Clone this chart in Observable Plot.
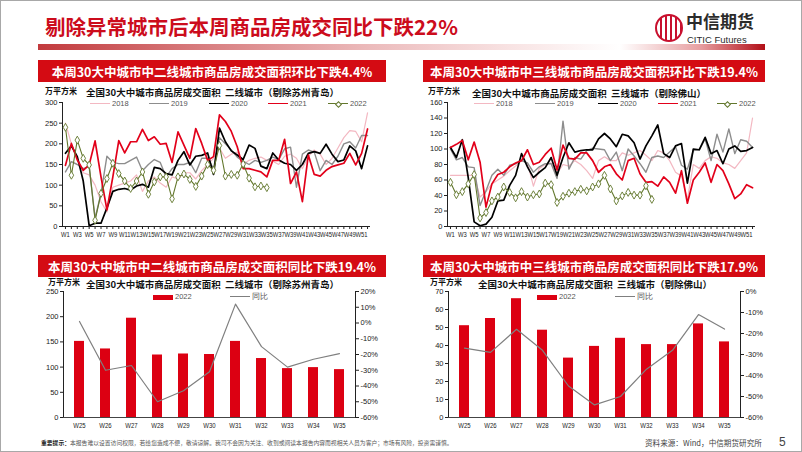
<!DOCTYPE html>
<html><head><meta charset="utf-8">
<script src="https://cdn.jsdelivr.net/npm/d3@7"></script>
<script src="https://cdn.jsdelivr.net/npm/@observablehq/plot@0.6"></script>
<style>
body{margin:0;background:#fff;}
#slide{position:relative;width:802px;height:452px;overflow:hidden;background:#fff;font-family:"Noto Sans CJK SC","Liberation Sans",sans-serif;}
.abs{position:absolute;white-space:nowrap;line-height:1;}
.hdr{position:absolute;height:22px;background:#d40b13;color:#fff;font-weight:700;font-size:12.5px;display:flex;align-items:center;justify-content:center;white-space:nowrap;}
.ctitle{position:absolute;white-space:nowrap;line-height:1;font-size:9.5px;font-weight:700;color:#111;}
.unit{position:absolute;white-space:nowrap;line-height:1;font-size:8px;font-weight:700;color:#111;}
.lg{position:absolute;white-space:nowrap;line-height:1;font-size:7.5px;color:#555;font-family:"Liberation Sans",Arial,sans-serif;}
.lgline{position:absolute;height:0;}
.chart{position:absolute;}
</style></head>
<body>
<div id="slide">
  <div class="abs" style="left:45px;top:16px;font-size:20.5px;font-weight:700;color:#cc0c1c;">剔除异常城市后本周商品房成交同比下跌22%</div>
  <div class="abs" style="left:38px;top:44px;width:727px;height:6px;background:linear-gradient(90deg,#c23a3d 0%,#d77b7d 22%,#ebb9ba 45%,#f8e3e3 65%,#ffffff 80%,#e7a0a2 91%,#b20f18 100%);"></div>
  <div class="abs" style="left:655px;top:14px;width:24px;height:24px;border:2.5px solid #c8102e;border-radius:50%;background:repeating-linear-gradient(90deg,#fff 0px,#fff 3px,#c8102e 3px,#c8102e 5px);"></div>
  <div class="abs" style="left:686px;top:12px;font-size:17px;font-weight:700;color:#2b2b2b;">中信期货</div>
  <div class="abs" style="left:687px;top:35px;font-size:9.5px;color:#2b2b2b;font-family:'Liberation Sans',Arial,sans-serif;">CITIC Futures</div>

  <div class="hdr" style="left:38px;top:60px;width:348px;">本周30大中城市中二线城市商品房成交面积环比下跌4.4%</div>
  <div class="hdr" style="left:423px;top:60px;width:342px;">本周30大中城市中三线城市商品房成交面积环比下跌19.4%</div>
  <div class="hdr" style="left:38px;top:255px;width:348px;">本周30大中城市中二线城市商品房成交面积同比下跌19.4%</div>
  <div class="hdr" style="left:423px;top:255px;width:342px;">本周30大中城市中三线城市商品房成交面积同比下跌17.9%</div>

  <div id="c1" class="chart" style="left:20px;top:95px;"></div>
  <div id="c2" class="chart" style="left:405px;top:95px;"></div>
  <div id="c3a" class="chart" style="left:20px;top:284px;"></div>
  <div id="c3b" class="chart" style="left:20px;top:284px;"></div>
  <div id="c4a" class="chart" style="left:405px;top:284px;"></div>
  <div id="c4b" class="chart" style="left:405px;top:284px;"></div>

  <div class="unit" style="left:45px;top:87px;">万平方米</div>
  <div class="ctitle" style="left:86px;top:88px;">全国30大中城市商品房成交面积&nbsp;&nbsp;二线城市（剔除苏州青岛）</div>
  <div class="unit" style="left:428px;top:87px;">万平方米</div>
  <div class="ctitle" style="left:472px;top:89px;">全国30大中城市商品房成交面积&nbsp;&nbsp;三线城市（剔除佛山）</div>
  <div class="unit" style="left:48px;top:278px;">万平方米</div>
  <div class="ctitle" style="left:86px;top:280px;">全国30大中城市商品房成交面积&nbsp;&nbsp;二线城市（剔除苏州青岛）</div>
  <div class="unit" style="left:430px;top:278px;">万平方米</div>
  <div class="ctitle" style="left:478px;top:280px;">全国30大中城市商品房成交面积&nbsp;&nbsp;三线城市（剔除佛山）</div>

  <div id="legends"></div>

  <div class="abs" style="left:41px;top:440px;font-size:5.8px;color:#555;"><b style="color:#222;">重要提示：</b>本报告难以设置访问权限，若给您造成不便，敬请谅解。我司不会因为关注、收到或阅读本报告内容而视相关人员为客户；市场有风险，投资需谨慎。</div>
  <div class="abs" style="left:645px;top:439px;font-size:7.6px;color:#444;">资料来源：Wind，中信期货研究所</div>
  <div class="abs" style="left:779px;top:436px;font-size:12px;color:#444;font-family:'Liberation Sans',Arial,sans-serif;">5</div>
  <div class="abs" style="left:0;top:0;width:800px;height:450px;border:1px solid #a8a8a8;"></div>
</div>
<script>
// ---------- data ----------
const weeks = ["W1","W2","W3","W4","W5","W6","W7","W8","W9","W10","W11","W12","W13","W14","W15","W16","W17","W18","W19","W20","W21","W22","W23","W24","W25","W26","W27","W28","W29","W30","W31","W32","W33","W34","W35","W36","W37","W38","W39","W40","W41","W42","W43","W44","W45","W46","W47","W48","W49","W50","W51","W52"];
const years = ["2018","2019","2020","2021","2022"];

// 二线城市 (万平方米)
const tier2_2018 = [250,200,165,130,125,100,60,35,95,100,105,110,125,85,110,120,105,95,120,115,130,130,115,135,150,165,190,165,175,180,150,160,165,168,160,158,150,170,175,165,140,170,185,175,150,165,190,215,232,230,205,275];
const tier2_2019 = [132,157,150,140,145,20,80,170,155,152,152,160,168,135,150,162,155,120,140,150,150,155,130,165,165,140,215,200,185,168,158,150,160,155,160,168,162,188,192,95,175,185,180,135,160,150,170,200,205,190,220,220];
const tier2_2020 = [177,195,169,110,2,8,8,45,85,90,92,88,98,102,95,143,140,128,125,160,181,149,170,172,178,126,238,205,183,173,162,197,189,146,140,178,161,153,150,136,150,177,181,177,199,175,157,161,195,183,140,195];
const tier2_2021 = [148,201,161,136,149,207,120,40,120,208,178,205,205,235,208,217,199,201,155,229,197,165,237,201,160,169,270,254,230,193,140,140,136,132,120,160,160,211,104,132,60,173,126,122,136,145,149,153,177,149,177,236];
const tier2_2022 = [240,124,209,165,149,15,80,116,153,128,110,92,110,132,78,108,120,120,67,120,127,114,97,122,150,136,196,122,126,124,151,117,96,98,94];

// 三线城市 (万平方米)
const tier3_2018 = [66,66,66,66,66,38,45,55,60,65,72,78,85,82,52,75,80,82,68,80,78,85,80,72,62,85,90,85,85,95,92,95,98,92,85,98,95,85,70,65,35,80,75,85,90,88,82,80,75,85,95,140];
const tier3_2019 = [100,86,89,77,76,27,46,66,74,66,79,81,85,82,70,77,81,81,62,136,74,89,87,98,101,100,99,85,96,72,100,91,81,70,89,91,89,96,103,79,74,98,99,113,85,119,96,126,94,112,110,102];
const tier3_2020 = [102,89,112,63,6,1,3,12,33,34,53,66,94,77,63,70,76,89,66,89,108,96,98,99,99,113,120,113,103,119,117,108,87,104,117,131,94,89,104,107,56,100,99,115,94,98,81,100,104,97,98,102];
const tier3_2021 = [102,106,111,86,109,83,25,55,67,70,77,82,85,99,80,83,93,101,73,105,88,87,95,95,85,70,77,80,68,60,85,88,68,57,58,52,64,57,43,72,30,60,70,82,57,80,72,55,36,42,54,50];
const tier3_2022 = [57,41,45,55,67,11,18,33,38,51,44,37,45,38,41,42,56,54,31,39,43,45,48,46,51,55,66,48.5,33,39.5,44,40.5,40.5,52.5,35];

// 同比 charts
const barWeeks = ["W25","W26","W27","W28","W29","W30","W31","W32","W33","W34","W35"];
const tier2_bars2022 = [151,136,197,124,126,125,151,117,97,99,95];
const tier2_yoy = [1,-30,-27,-50,-43,-31,12,-15,-28,-23,-19.4];
const tier3_bars2022 = [51,55,66,48.5,33,39.5,44,40.5,40.5,52,42];
const tier3_yoy = [-27,-29,-18,-28,-45,-54,-50,-37,-28,-11,-17.9];

// tick labels
const tier2Ticks = [0,50,100,150,200,250,300];
const tier3Ticks = [0,20,40,60,80,100,120,140,160];
const barTicks2 = [0,50,100,150,200,250];
const yoyTicks2 = [-60,-50,-40,-30,-20,-10,0,10,20];
const barTicks3 = [0,10,20,30,40,50,60,70];
const yoyTicks3 = [-60,-50,-40,-30,-20,-10,0];

// ---------- styles ----------
const yearColors = {"2018":"#f3b8c2","2019":"#8d8d8d","2020":"#000000","2021":"#e2001a","2022":"#62772c"};
const yearWidths = {"2018":1.2,"2019":1.4,"2020":1.7,"2021":1.7,"2022":1.1};
const axisStyle = {fontFamily:"'Liberation Sans', Arial, sans-serif", fontSize:"7.5px", color:"#222", background:"transparent", overflow:"visible"};

function squeezeX(svg, k) {
  d3.select(svg).selectAll('g[aria-label="x-axis tick label"] text').each(function(){
    const tr = this.getAttribute("transform") || "";
    const xa = +(this.getAttribute("x") || 0);
    this.removeAttribute("x");
    this.setAttribute("transform", `${tr} translate(${xa},0) scale(${k},1)`);
  });
}

function weeklyChart(id, seriesList, yMax, yTicks) {
  const rows = seriesList.flatMap((vals, k) => vals.map((v, i) => ({week: weeks[i], value: v, year: years[k]})));
  const marks = years.map(yr => Plot.line(rows.filter(d => d.year === yr), {x: "week", y: "value", stroke: yearColors[yr], strokeWidth: yearWidths[yr]}));
  marks.push(Plot.dot(rows.filter(d => d.year === "2022"), {x: "week", y: "value", symbol: "diamond", r: 2.4, fill: "#fff", stroke: yearColors["2022"], strokeWidth: 0.9}));
  marks.push(Plot.ruleY([0], {stroke: "#222"}));
  const svg = Plot.plot({
    width: 360, height: 150, marginLeft: 42, marginRight: 10, marginTop: 7, marginBottom: 19,
    style: axisStyle,
    x: {type: "band", domain: weeks, padding: 0, tickSize: 3, tickPadding: 2, tickFormat: d => (+d.slice(1)) % 2 === 1 ? d : "", label: null},
    y: {domain: [0, yMax], ticks: yTicks, tickSize: 3, tickPadding: 2, line: true, label: null},
    marks
  });
  squeezeX(svg, 0.78);
  document.getElementById(id).append(svg);
}

function barChart(idA, idB, bars, yoy, leftMax, leftTicks, rightDomain, rightTicks) {
  const barRows = barWeeks.map((w, i) => ({week: w, value: bars[i]}));
  const yoyRows = barWeeks.map((w, i) => ({week: w, value: yoy[i]}));
  const common = {width: 380, height: 150, marginLeft: 43, marginRight: 45, marginTop: 7, marginBottom: 17, style: axisStyle};
  const x = {type: "band", domain: barWeeks, paddingInner: 0.6, paddingOuter: 0.3, tickSize: 0, tickPadding: 5, label: null};
  const left = Plot.plot({
    ...common, x,
    y: {domain: [0, leftMax], ticks: leftTicks, tickSize: 3, tickPadding: 2, line: true, label: null},
    marks: [
      Plot.barY(barRows, {x: "week", y: "value", fill: "#dc0012"}),
      Plot.ruleY([0], {stroke: "#444"})
    ]
  });
  squeezeX(left, 0.8);
  const right = Plot.plot({
    ...common, x: {...x, axis: null},
    y: {domain: rightDomain, ticks: rightTicks, axis: "right", tickSize: 3, tickPadding: 2, line: true, tickFormat: d => d + "%", label: null},
    marks: [Plot.line(yoyRows, {x: "week", y: "value", stroke: "#7f7f7f", strokeWidth: 1.2})]
  });
  document.getElementById(idA).append(left);
  document.getElementById(idB).append(right);
}

weeklyChart("c1", [tier2_2018, tier2_2019, tier2_2020, tier2_2021, tier2_2022], 300, tier2Ticks);
weeklyChart("c2", [tier3_2018, tier3_2019, tier3_2020, tier3_2021, tier3_2022], 160, tier3Ticks);
barChart("c3a", "c3b", tier2_bars2022, tier2_yoy, 250, barTicks2, [-60, 20], yoyTicks2);
barChart("c4a", "c4b", tier3_bars2022, tier3_yoy, 70, barTicks3, [-60, 0], yoyTicks3);

// ---------- legends (HTML) ----------
const lg = document.getElementById("legends");
function addLine(x, y, w, color, width) {
  const d = document.createElement("div");
  d.className = "lgline";
  d.style.cssText = `left:${x}px;top:${y - width / 2}px;width:${w}px;border-top:${width}px solid ${color};`;
  lg.append(d);
}
function addText(x, y, t) {
  const d = document.createElement("div");
  d.className = "lg"; d.style.left = x + "px"; d.style.top = (y - 4) + "px"; d.textContent = t;
  lg.append(d);
}
function addDiamond(x, y, color) {
  const d = document.createElement("div");
  d.style.cssText = `position:absolute;left:${x - 2}px;top:${y - 2}px;width:3px;height:3px;border:0.8px solid ${color};background:#fff;transform:rotate(45deg);`;
  lg.append(d);
}
function yearLegend(xs, y) {
  years.forEach((yr, i) => {
    addLine(xs[i], y, 20, yearColors[yr], yr === "2020" || yr === "2021" ? 1.6 : 1.1);
    if (yr === "2022") addDiamond(xs[i] + 10, y, yearColors[yr]);
    addText(xs[i] + 22, y, yr);
  });
}
yearLegend([90, 149, 209, 268, 328], 104);
yearLegend([474, 535, 598, 658, 717], 104);
function barLegend(xBar, xLine, y) {
  const b = document.createElement("div");
  b.style.cssText = `position:absolute;left:${xBar}px;top:${y - 2.5}px;width:20px;height:5px;background:#dc0012;`;
  lg.append(b);
  addText(xBar + 22, y, "2022");
  addLine(xLine, y, 20, "#7f7f7f", 1.1);
  addText(xLine + 22, y, "同比");
}
barLegend(153, 230, 297);
barLegend(537, 615, 297);
</script>
</body></html>
